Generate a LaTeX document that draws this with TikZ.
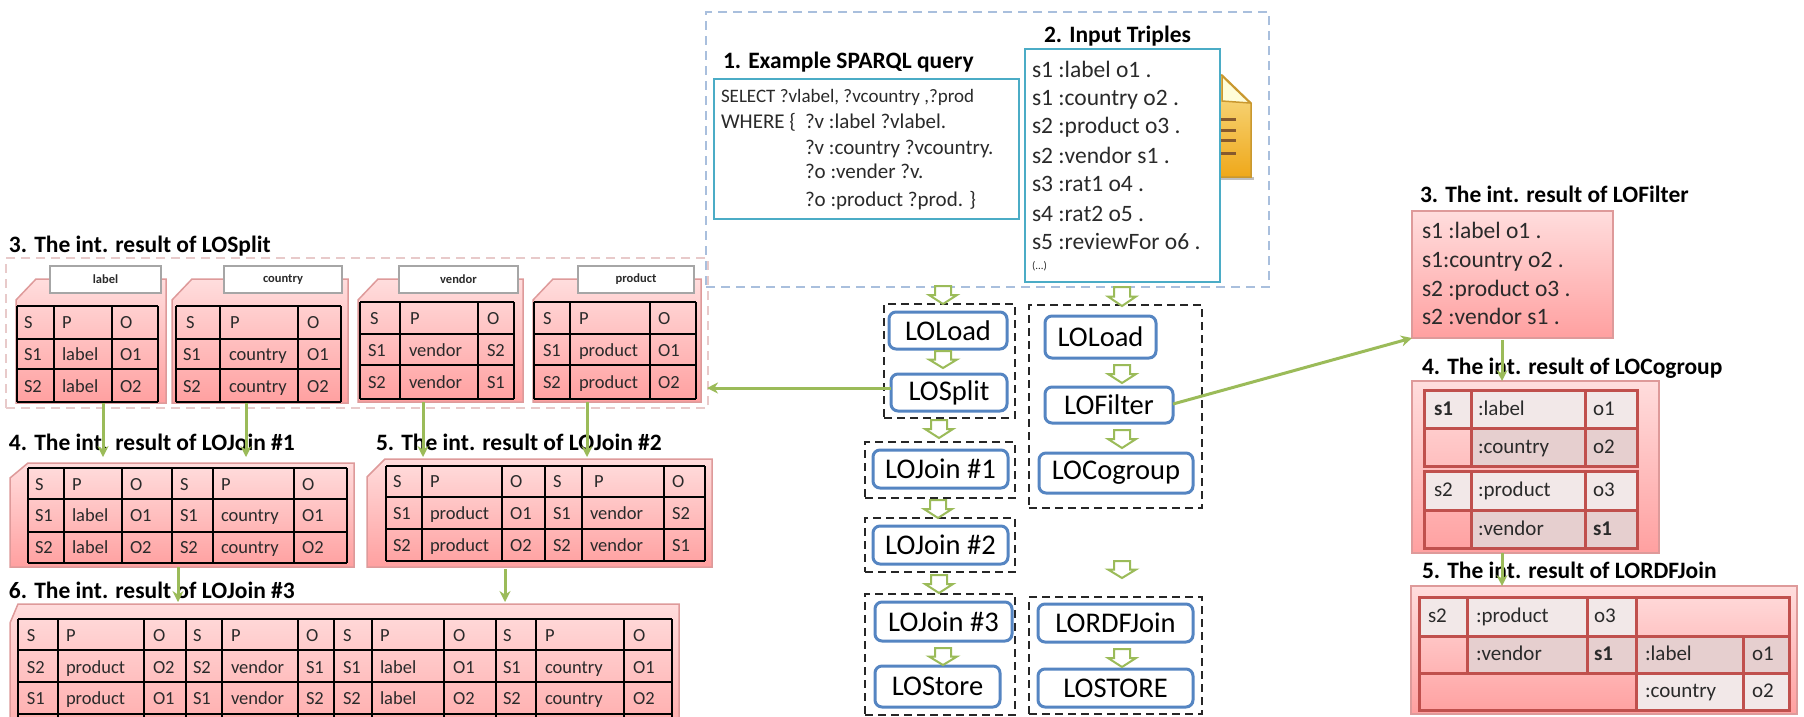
\documentclass[tikz,border=0pt]{standalone}
\usepackage{fontspec}
\setmainfont{Carlito}
\usetikzlibrary{arrows.meta}
\definecolor{gline}{HTML}{9BBB59}
\definecolor{bnode}{HTML}{5585C2}
\definecolor{tealb}{HTML}{4BACC6}
\definecolor{pinkd}{HTML}{E8CACA}
\definecolor{blued}{HTML}{A9BFDD}
\definecolor{redl}{HTML}{C0504D}
\definecolor{txt}{HTML}{2A2A2A}
\definecolor{ptop}{HTML}{FFDDDD}
\definecolor{pbot}{HTML}{FFA0A0}
\definecolor{pedge}{HTML}{DE9A9A}
\definecolor{clight}{HTML}{F2E8E8}
\definecolor{cdark}{HTML}{E6CFCF}
\definecolor{goldt}{HTML}{F8DE8C}
\definecolor{goldb}{HTML}{EFA81A}
\definecolor{golde}{HTML}{C9982F}
\tikzset{
  x=1pt,y=-1pt,
  every node/.style={inner sep=0pt,outer sep=0pt,text=txt},
  titlet/.style={anchor=base west,font=\fontsize{23.5}{24}\selectfont\bfseries,text=black},
  grpbox/.style={draw=black!85,line width=2pt,dash pattern=on 8pt off 5pt},
  lonode/.style={draw=bnode,line width=3pt,rounded corners=7pt,fill=white,font=\fontsize{28.5}{29}\selectfont,text=black},
  tealbox/.style={draw=tealb,line width=2pt,fill=white},
  pinkgrad/.style={draw=pedge,line width=1.5pt,top color=ptop,bottom color=pbot},
  redbox/.style={pinkgrad},
  tabbox/.style={draw=black!35,line width=1.5pt,fill=white,font=\fontsize{12.5}{13}\selectfont\bfseries},
  tline/.style={draw=black,line width=2pt},
  rline/.style={draw=redl,line width=3pt},
  cellt/.style={anchor=base west,font=\fontsize{18.5}{19}\selectfont},
  rcellt/.style={anchor=base west,font=\fontsize{21}{22}\selectfont},
  lightc/.style={fill=clight},
  darkc/.style={fill=cdark},
  flow/.style={draw=gline,line width=3pt,-{Stealth[length=11pt,width=11pt]}},
  hollow/.style={draw=gline,line width=2pt,fill=white,line join=miter},
  listt/.style={anchor=base west,font=\fontsize{23.5}{24}\selectfont},
  queryt/.style={anchor=base west,font=\fontsize{21}{22}\selectfont},
}
\newcommand\bx[7][]{\node[#7,minimum width={#5-#3},minimum height={#6-#4}] (#2) at ({(#3+#5)/2},{(#4+#6)/2}) {#1};}
% folder: name, x1, y1, x2, y2, corner dx, corner dy
\newcommand\fold[7]{\path[pinkgrad] ({#2+#6},#3) -- (#4,#3) -- (#4,#5) -- (#2,#5) -- (#2,{#3+#7}) -- cycle;
  \coordinate (#1) at ({(#2+#4)/2},{(#3+#5)/2});}
\newcount\cellno
\newcommand\rowt[3]{\foreach \x/\t in {#2}{\global\advance\cellno by 1 \node[#3] (cell\the\cellno) at (\x,{#1+6}) {\t};}}
\newcommand\gridt[6]{%
  \foreach \x in {#1}{\draw[tline] (\x,#5) -- (\x,#6);}
  \foreach \y in {#2}{\draw[tline] (#3,\y) -- (#4,\y);}}
\newcommand\blockarrow[3]{\draw[hollow] (#1-8,#2) -- (#1+8,#2) -- (#1+8,{(#2+#3)/2}) -- (#1+14,{(#2+#3)/2}) -- (#1,#3) -- (#1-14,{(#2+#3)/2}) -- (#1-8,{(#2+#3)/2}) -- cycle;}
\begin{document}
\begin{tikzpicture}
\clip (0,0) rectangle (1804,716);
\fill[white] (0,0) rectangle (1804,716);
% ---- top dashed frames
\bx{framea}{706}{12}{1269}{287}{draw=blued,line width=2pt,dash pattern=on 9pt off 6pt}
\bx{frameb}{6}{258}{708}{408}{draw=pinkd,line width=2pt,dash pattern=on 9pt off 6pt}
% ---- file icon
\fill[black!25] (1215,177) -- (1254,177) -- (1254,180) -- (1215,180) -- cycle;
\draw[draw=golde,line width=1.5pt,top color=goldt,bottom color=goldb] (1205,75) -- (1222,75) -- (1251,103) -- (1251,177) -- (1205,177) -- cycle;
\fill[yellow!15!white,draw=golde,line width=1.5pt] (1222,76) -- (1222,101) -- (1250,103) -- cycle;
\foreach \y in {119,130,140,153}{\draw[brown!70!black,line width=3pt] (1210,\y) -- (1236,\y);}
% ---- query
\node[titlet] (t1) at (723,68) {1. Example SPARQL query};
\bx{qbox}{714}{79}{1019}{219}{tealbox}
\node[queryt,font=\fontsize{19}{20}\selectfont] (q1) at (721,102) {SELECT ?vlabel, ?vcountry ,?prod};
\node[queryt] (q2) at (721,128) {WHERE \{};
\node[queryt] (q3) at (805,128) {?v :label ?vlabel.};
\node[queryt] (q4) at (805,154) {?v :country ?vcountry.};
\node[queryt] (q5) at (805,178) {?o :vender ?v.};
\node[queryt] (q6) at (805,206) {?o :product ?prod. \}};
% ---- triples
\node[titlet] (t2) at (1044,42) {2. Input Triples};
\bx{tbox}{1025}{49}{1220}{282}{tealbox}
\node[listt] (l1) at (1032,77) {s1 :label o1 .};
\node[listt] (l2) at (1032,105) {s1 :country o2 .};
\node[listt] (l3) at (1032,133) {s2 :product o3 .};
\node[listt] (l4) at (1032,163) {s2 :vendor s1 .};
\node[listt] (l5) at (1032,191) {s3 :rat1 o4 .};
\node[listt] (l6) at (1032,221) {s4 :rat2 o5 .};
\node[listt] (l7) at (1032,249) {s5 :reviewFor o6 .};
\node[listt,font=\fontsize{11}{12}\selectfont] (l8) at (1032,269) {(...)};
% ---- LOSplit result
\node[titlet] (t3) at (9,252) {3. The int. result of LOSplit};
\fold{fa}{16}{279}{166}{403}{20}{21}
\fold{fb}{172}{279}{348}{403}{20}{21}
\fold{fc}{358}{279}{523}{402}{20}{21}
\fold{fd}{533}{279}{701}{402}{20}{21}
\bx[label]{taba}{50}{266}{161}{293}{tabbox}
\bx[country]{tabb}{224}{266}{342}{293}{tabbox}
\bx[vendor]{tabc}{399}{266}{518}{293}{tabbox}
\bx[product]{tabd}{578}{266}{694}{293}{tabbox}
\gridt{17,54,112,158}{306,339,369,402}{17}{158}{306}{402}
\rowt{322}{24/S,62/P,120/O}{cellt}
\rowt{354}{24/S1,62/label,120/O1}{cellt}
\rowt{386}{24/S2,62/label,120/O2}{cellt}
\gridt{176,220,298,341}{306,339,369,402}{176}{341}{306}{402}
\rowt{322}{186/S,230/P,307/O}{cellt}
\rowt{354}{183/S1,229/country,307/O1}{cellt}
\rowt{386}{183/S2,229/country,307/O2}{cellt}
\gridt{360,400,478,514}{302,334,365,399}{360}{514}{302}{399}
\rowt{318}{370/S,410/P,487/O}{cellt}
\rowt{350}{368/S1,409/vendor,487/S2}{cellt}
\rowt{382}{368/S2,409/vendor,487/S1}{cellt}
\gridt{534,570,650,696}{302,334,365,399}{534}{696}{302}{399}
\rowt{318}{543/S,579/P,658/O}{cellt}
\rowt{350}{543/S1,579/product,658/O1}{cellt}
\rowt{382}{543/S2,579/product,658/O2}{cellt}
% ---- LOJoin #1
\node[titlet] (t4) at (9,450) {4. The int. result of LOJoin \#1};
\fold{fe}{10}{463}{354}{567}{18}{15}
\gridt{28,64,122,172,213,294,347}{468,499,532,563}{28}{347}{468}{563}
\rowt{484}{35/S,72/P,130/O,180/S,221/P,302/O}{cellt}
\rowt{515}{35/S1,72/label,130/O1,180/S1,221/country,302/O1}{cellt}
\rowt{547}{35/S2,72/label,130/O2,180/S2,221/country,302/O2}{cellt}
% ---- LOJoin #2
\node[titlet] (t5) at (376,450) {5. The int. result of LOJoin \#2};
\fold{ff}{367}{459}{712}{567}{18}{18}
\gridt{386,422,502,545,582,664,705}{466,497,529,561}{386}{705}{466}{561}
\rowt{481}{393/S,430/P,510/O,553/S,594/P,672/O}{cellt}
\rowt{513}{393/S1,430/product,510/O1,553/S1,590/vendor,672/S2}{cellt}
\rowt{545}{393/S2,430/product,510/O2,553/S2,590/vendor,672/S1}{cellt}
% ---- LOJoin #3
\node[titlet] (t6) at (9,598) {6. The int. result of LOJoin \#3};
\fold{fg}{10}{604}{679}{760}{8}{19}
\gridt{18,58,144,186,222,298,334,372,444,496,536,624,672}{619,650,682,714}{18}{672}{619}{730}
\rowt{635}{27/S,66/P,153/O,193/S,231/P,306/O,343/S,380/P,453/O,503/S,545/P,633/O}{cellt}
\rowt{667}{27/S2,66/product,153/O2,193/S2,231/vendor,306/S1,343/S1,380/label,453/O1,503/S1,545/country,633/O1}{cellt}
\rowt{698}{27/S1,66/product,153/O1,193/S1,231/vendor,306/S2,343/S2,380/label,453/O2,503/S2,545/country,633/O2}{cellt}
% ---- group frames
\bx{ga}{884}{304}{1015}{418}{grpbox}
\bx{gb}{865}{442}{1015}{498}{grpbox}
\bx{gc}{865}{518}{1015}{572}{grpbox}
\bx{gd}{865}{594}{1015}{715}{grpbox}
\bx{ge}{1029}{305}{1202}{508}{grpbox}
\bx{gf}{1029}{597}{1202}{714}{grpbox}
% ---- operator nodes
\bx[LOLoad]{n1}{889}{312}{1007}{349}{lonode}
\bx[LOSplit]{n2}{891}{374}{1007}{411}{lonode}
\bx[LOJoin \#1]{n3}{873}{450}{1008}{488}{lonode}
\bx[LOJoin \#2]{n4}{873}{526}{1008}{564}{lonode}
\bx[LOJoin \#3]{n5}{875}{602}{1012}{641}{lonode}
\bx[LOStore]{n6}{875}{666}{1000}{707}{lonode}
\bx[LOLoad]{m1}{1045}{316}{1156}{358}{lonode}
\bx[LOFilter]{m2}{1045}{387}{1173}{423}{lonode}
\bx[LOCogroup]{m3}{1039}{453}{1193}{493}{lonode}
\bx[LORDFJoin]{m4}{1038}{604}{1193}{642}{lonode}
\bx[LOSTORE]{m5}{1038}{669}{1193}{707}{lonode}
% ---- block arrows
\blockarrow{943}{286}{304}
\blockarrow{1122}{287}{306}
\blockarrow{943}{351}{368}
\blockarrow{1122}{365}{383}
\blockarrow{1122}{430}{448}
\blockarrow{939}{420}{438}
\blockarrow{938}{500}{518}
\blockarrow{939}{575}{593}
\blockarrow{943}{648}{665}
\blockarrow{1122}{561}{578}
\blockarrow{1122}{649}{667}
% ---- LOFilter result
\node[titlet] (t7) at (1420,202) {3. The int. result of LOFilter};
\bx{rfa}{1412}{211}{1613}{338}{redbox}
\node[listt] (r1) at (1422,238) {s1 :label o1 .};
\node[listt] (r2) at (1422,267) {s1:country o2 .};
\node[listt] (r3) at (1422,296) {s2 :product o3 .};
\node[listt] (r4) at (1422,324) {s2 :vendor s1 .};
% ---- LOCogroup result
\node[titlet] (t8) at (1422,374) {4. The int. result of LOCogroup};
\bx{rfb}{1412}{381}{1659}{553}{redbox}
\fill[lightc] (1424,390) rectangle (1637,428);
\fill[darkc] (1471,428) rectangle (1637,466);
\fill[lightc] (1424,471) rectangle (1637,510);
\fill[darkc] (1471,510) rectangle (1637,548);
\draw[rline] (1424,390) rectangle (1637,466);
\draw[rline] (1424,471) rectangle (1637,548);
\foreach \y in {428,510}{\draw[rline] (1424,\y) -- (1637,\y);}
\foreach \x in {1471,1585}{\draw[rline] (\x,390) -- (\x,466); \draw[rline] (\x,471) -- (\x,548);}
\rowt{409}{1434/\textbf{s1},1478/:label,1593/o1}{rcellt}
\rowt{447}{1478/:country,1593/o2}{rcellt}
\rowt{490}{1434/s2,1478/:product,1593/o3}{rcellt}
\rowt{529}{1478/:vendor,1593/\textbf{s1}}{rcellt}
% ---- LORDFJoin result
\node[titlet] (t9) at (1422,578) {5. The int. result of LORDFJoin};
\bx{rfc}{1411}{586}{1797}{714}{redbox}
\fill[lightc] (1419,597) rectangle (1636,636);
\fill[darkc] (1467,636) rectangle (1789,673);
\fill[lightc] (1636,673) rectangle (1789,710);
\draw[rline] (1419,597) rectangle (1789,710);
\draw[rline] (1419,636) -- (1789,636);
\draw[rline] (1419,673) -- (1789,673);
\draw[rline] (1467,597) -- (1467,673);
\draw[rline] (1587,597) -- (1587,673);
\draw[rline] (1636,597) -- (1636,710);
\draw[rline] (1743,636) -- (1743,710);
\rowt{616}{1428/s2,1476/:product,1594/o3}{rcellt}
\rowt{654}{1476/:vendor,1594/\textbf{s1},1645/:label,1752/o1}{rcellt}
\rowt{691}{1645/:country,1752/o2}{rcellt}
% ---- connectors
\coordinate (ca1) at (103,403); \coordinate (ca2) at (103,457);
\coordinate (cb1) at (246,403); \coordinate (cb2) at (246,457);
\coordinate (cc1) at (423,402); \coordinate (cc2) at (423,457);
\coordinate (cd1) at (587,402); \coordinate (cd2) at (587,457);
\coordinate (ce1) at (178,567); \coordinate (ce2) at (178,602);
\coordinate (cf1) at (505,569); \coordinate (cf2) at (505,602);
\coordinate (cg1) at (1502,340); \coordinate (cg2) at (1502,381);
\coordinate (ch1) at (1502,553); \coordinate (ch2) at (1502,586);
\coordinate (ci1) at (891,388); \coordinate (ci2) at (707,388);
\coordinate (cj1) at (1173,404); \coordinate (cj2) at (1412,338);
\foreach \a/\b in {ca1/ca2,cb1/cb2,cc1/cc2,cd1/cd2,ce1/ce2,cf1/cf2,cg1/cg2,ch1/ch2,ci1/ci2,cj1/cj2}{\draw[flow] (\a) -- (\b);}
\end{tikzpicture}
\end{document}
